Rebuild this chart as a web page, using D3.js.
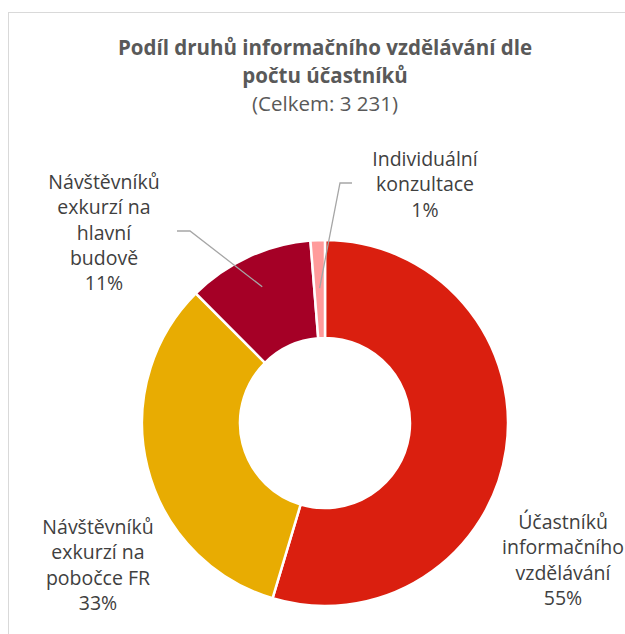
<!DOCTYPE html>
<html>
<head>
<meta charset="utf-8">
<script src="https://cdn.jsdelivr.net/npm/d3@7"></script>
<style>
body { margin: 0; background: #fff; }
text { font-family: "Open Sans", "Liberation Sans", sans-serif; }
</style>
</head>
<body>
<div id="chart"></div>
<script>
// data
var categories = ["Účastníků informačního vzdělávání", "Návštěvníků exkurzí na pobočce FR", "Návštěvníků exkurzí na hlavní budově", "Individuální konzultace"];
var values = [1765, 1063, 362, 41];
var colors = ["#DA1F0F", "#E8AC02", "#A50026", "#FF9B9B"];
// label lines as they are wrapped in the reference
var labelLines = [
	["Účastníků", "informačního", "vzdělávání"],
	["Návštěvníků", "exkurzí na", "pobočce FR"],
	["Návštěvníků", "exkurzí na", "hlavní", "budově"],
	["Individuální", "konzultace"]
];
var titleLines = ["Podíl druhů informačního vzdělávání dle", "počtu účastníků"];
var subtitle = "(Celkem: 3 231)";

var width = 625, height = 634;
var cx = 325, cy = 423;
var outerR = 183, innerR = 85;

var svg = d3.select("#chart").append("svg")
	.attr("width", width)
	.attr("height", height);

// chart area frame
svg.append("rect")
	.attr("x", 8.5).attr("y", 12.5)
	.attr("width", 700).attr("height", 700)
	.style("fill", "#fff")
	.style("stroke", "#D9D9D9");

// title
svg.selectAll(".title")
	.data(titleLines)
	.enter().append("text")
	.attr("class", "title")
	.attr("x", cx)
	.attr("y", function(d, i) { return 55 + i * 28; })
	.attr("text-anchor", "middle")
	.style("font-size", "20.5px")
	.style("font-weight", "bold")
	.style("fill", "#595959")
	.text(function(d) { return d; });

svg.append("text")
	.attr("x", cx)
	.attr("y", 111)
	.attr("text-anchor", "middle")
	.style("font-size", "20.5px")
	.style("fill", "#595959")
	.text(subtitle);

var total = d3.sum(values);
var pie = d3.pie().sort(null).value(function(d) { return d; });
var arcs = pie(values);
var arc = d3.arc().innerRadius(innerR).outerRadius(outerR);

var g = svg.append("g").attr("transform", "translate(" + cx + "," + cy + ")");

g.selectAll(".slice")
	.data(arcs)
	.enter().append("path")
	.attr("class", "slice")
	.attr("d", arc)
	.style("fill", function(d, i) { return colors[i]; })
	.style("stroke", "#fff")
	.style("stroke-width", 2.5);

// label anchor positions (centre of text block, first baseline)
var labelPos = [
	{ x: 563, y: 529 },
	{ x: 98, y: 534 },
	{ x: 104, y: 189 },
	{ x: 425, y: 166 }
];
var lineH = 25.3;

var fmt = d3.format(".0%");
labelLines.forEach(function(lines, i) {
	var all = lines.concat([fmt(values[i] / total)]);
	svg.append("g").selectAll("text")
		.data(all)
		.enter().append("text")
		.attr("x", labelPos[i].x)
		.attr("y", function(d, j) { return labelPos[i].y + j * lineH; })
		.attr("text-anchor", "middle")
		.style("font-size", "19.5px")
		.style("fill", "#404040")
		.text(function(d) { return d; });
});

// leader lines for the two small slices
function leader(d, r, knee, end) {
	var a = (d.startAngle + d.endAngle) / 2;
	var p = [cx + Math.sin(a) * r, cy - Math.cos(a) * r];
	return [p, knee, end];
}
var line = d3.line();
var leaders = [
	leader(arcs[2], 150, [190, 231], [177, 231]),
	leader(arcs[3], 135, [340, 183], [352, 183])
];
svg.selectAll(".leader")
	.data(leaders)
	.enter().append("path")
	.attr("class", "leader")
	.attr("d", line)
	.style("fill", "none")
	.style("stroke", "#A6A6A6")
	.style("stroke-width", 1.3);
</script>
</body>
</html>
